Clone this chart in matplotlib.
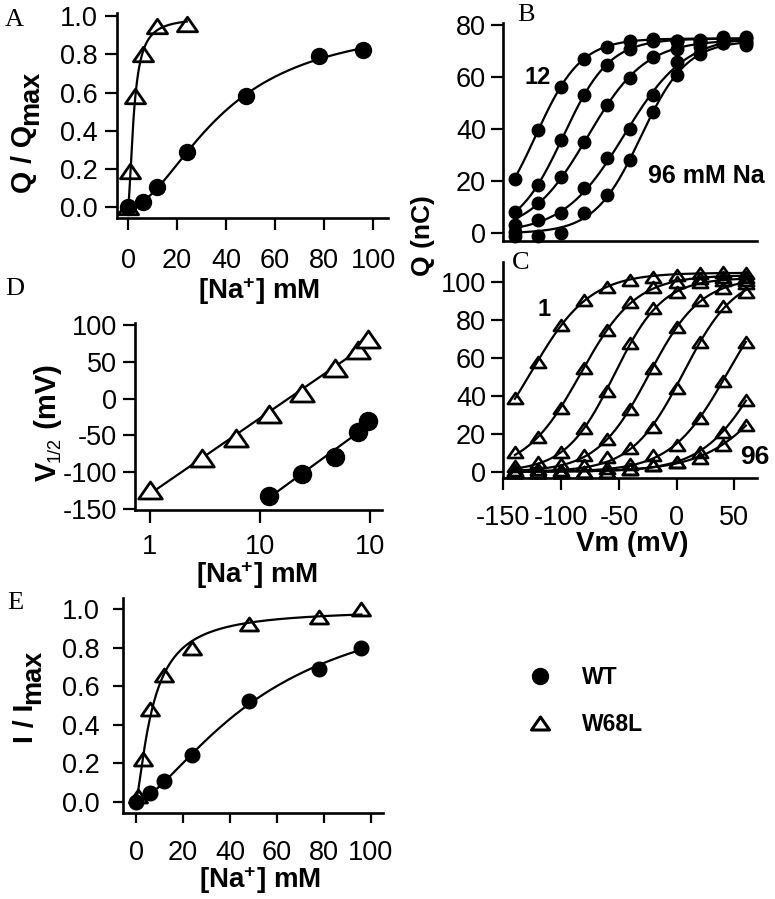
import numpy as np
import matplotlib
matplotlib.use("Agg")
import matplotlib.pyplot as plt
from matplotlib.path import Path
from matplotlib.lines import Line2D
from matplotlib.ticker import FixedLocator, FixedFormatter, NullLocator

# ---------------- data ----------------
# Panel A: normalised charge vs [Na+]
a_wt_na = [0, 6, 12, 24, 48, 78, 96]
a_wt_q = [0.0, 0.03, 0.105, 0.287, 0.584, 0.79, 0.822]
a_mut_na = [0, 1, 3, 6, 12, 24]
a_mut_q = [0.0, 0.19, 0.58, 0.80, 0.95, 0.957]

# Panel B: WT Q-V curves (nC), 12..96 mM Na
b_v = [-140, -120, -100, -80, -60, -40, -20, 0, 20, 40, 60]
b_12 = [21, 39.7, 56.3, 67, 71.7, 74, 74.6, 74, 74.2, 75.5, 75.5]
b_24 = [8.3, 18.5, 35.8, 53.1, 64.6, 71, 74, 74, 74, 75, 75]
b_48 = [3.2, 11.5, 21.7, 35.2, 49.3, 59.5, 67.8, 71, 73, 74, 74]
b_78 = [0.5, 5, 7.7, 17.3, 28.8, 40, 53.1, 66, 71.7, 73, 73]
b_96 = [-1, -1, 0, 7.7, 14.7, 28, 46.7, 61, 69, 73, 72.5]
b_curves = [b_12, b_24, b_48, b_78, b_96]

# Panel C: W68L Q-V curves (nC), 1..96 mM Na
c_v = [-140, -120, -100, -80, -60, -40, -20, 0, 20, 40, 60]
c_1 = [38.7, 58, 77.5, 90.6, 97.7, 101, 103, 104, 105, 105.5, 105]
c_3 = [10.6, 18.5, 33.5, 54.6, 74.8, 89.8, 97.7, 100.3, 102, 103, 103]
c_6 = [3.2, 5.3, 10.6, 23.2, 42.6, 67.8, 86.3, 95, 100, 101, 101]
c_12 = [0.8, 1.5, 4, 8.8, 17.3, 33, 54.6, 76.6, 90.6, 97, 99.4]
c_24 = [0.5, 0, 1, 3.5, 8, 12.3, 23.8, 44, 68.3, 87.5, 95]
c_48 = [0, 0, 0, 0, 1.8, 3.9, 8.8, 14, 28.2, 48, 68.6]
c_78 = [0, 0, 0, 0, 0, 1.6, 3.5, 5.3, 10.6, 21, 37.9]
c_96 = [0, 0, 0, 0, 0, 1.6, 3.5, 5.3, 7, 14, 24.7]
c_curves = [c_1, c_3, c_6, c_12, c_24, c_48, c_78, c_96]

# Panel D: V1/2 vs [Na+]
d_mut_na = [1, 3, 6, 12, 24, 48, 78, 96]
d_mut_v = [-124, -81, -53, -21, 8, 42, 66, 81]
d_wt_na = [12, 24, 48, 78, 96]
d_wt_v = [-132, -102, -79, -45, -31]

# Panel E: normalised current vs [Na+]
e_wt_na = [0, 6, 12, 24, 48, 78, 96]
e_wt_i = [0.0, 0.045, 0.105, 0.24, 0.52, 0.69, 0.80]
e_mut_na = [1, 3, 6, 12, 24, 48, 78, 96]
e_mut_i = [0.03, 0.22, 0.48, 0.66, 0.80, 0.92, 0.96, 1.0]

qv_ticks_b = [0, 20, 40, 60, 80]
qv_ticks_c = [0, 20, 40, 60, 80, 100]
v_ticks = [-150, -100, -50, 0, 50]
frac_ticks = [0.0, 0.2, 0.4, 0.6, 0.8, 1.0]
na_ticks = [0, 20, 40, 60, 80, 100]
d_yticks = [-150, -100, -50, 0, 50, 100]
d_xticks = [1, 10, 100]
d_xticklabels = ["1", "10", "10"]

# ---------------- fitting helpers ----------------
def fit_hill(x, y):
    x = np.asarray(x, float); y = np.asarray(y, float)
    K = np.logspace(-0.5, 2.5, 400)[:, None, None]
    n = np.linspace(0.8, 4.0, 65)[None, :, None]
    xn = x[None, None, :] ** n
    f = xn / (xn + K ** n)
    a = (f * y).sum(-1) / (f * f).sum(-1)
    sse = ((a[..., None] * f - y) ** 2).sum(-1)
    i, j = np.unravel_index(np.argmin(sse), sse.shape)
    return a[i, j], K[i, 0, 0], n[0, j, 0]


def hill_curve(x, y):
    a, K, n = fit_hill(x, y)
    xs = np.linspace(min(x), max(x), 400)
    return xs, a * xs ** n / (xs ** n + K ** n)


def boltz_curve(v, q, qcap):
    v = np.asarray(v, float); q = np.asarray(q, float)
    vh = np.linspace(-250, 200, 451)[:, None, None]
    k = np.linspace(5, 40, 71)[None, :, None]
    f = 1.0 / (1.0 + np.exp(-(v[None, None, :] - vh) / k))
    a = np.minimum((f * q).sum(-1) / (f * f).sum(-1), qcap)
    sse = ((a[..., None] * f - q) ** 2).sum(-1)
    i, j = np.unravel_index(np.argmin(sse), sse.shape)
    vs = np.linspace(v.min(), v.max(), 400)
    return vs, a[i, j] / (1.0 + np.exp(-(vs - vh[i, 0, 0]) / k[0, j, 0]))


# ---------------- style ----------------
plt.rcParams.update({
    "font.family": ["Liberation Sans", "DejaVu Sans"],
    "font.size": 19.5,
    "axes.unicode_minus": False,
    "mathtext.fontset": "custom",
    "mathtext.rm": "Liberation Sans",
    "mathtext.bf": "Liberation Sans:bold",
    "mathtext.it": "Liberation Sans:italic",
})

W, H = 775, 899
fig = plt.figure(figsize=(W / 100, H / 100), dpi=100)

TRI = Path([(0, 0.72), (-1, -0.72), (1, -0.72), (0, 0.72)],
           [Path.MOVETO, Path.LINETO, Path.LINETO, Path.CLOSEPOLY])
LW = 1.6


def ax_px(l, t, r, b):
    return fig.add_axes([l / W, 1 - b / H, (r - l) / W, (b - t) / H])


def style(ax, xpad, ypad, tl=8.5):
    for s in ("top", "right"):
        ax.spines[s].set_visible(False)
    for s in ("left", "bottom"):
        ax.spines[s].set_linewidth(1.9)
    ax.tick_params(axis="both", direction="out", length=tl, width=1.6)
    ax.tick_params(axis="x", pad=xpad)
    ax.tick_params(axis="y", pad=ypad)
    ax.patch.set_alpha(0)


# Panel A
axA = ax_px(117, 13, 388, 218)
axA.set_xlim(-4.49, 106.1); axA.set_ylim(-0.056, 1.0157)
xs, ys = hill_curve(a_wt_na, a_wt_q)
axA.plot(xs, ys, color="k", lw=LW)
xs, ys = hill_curve(a_mut_na, a_mut_q)
axA.plot(xs, ys, color="k", lw=LW)
axA.plot(a_wt_na, a_wt_q, ls="none", marker="o", ms=11.5, mfc="k", mec="k", clip_on=False, zorder=3)
axA.plot(a_mut_na, a_mut_q, ls="none", marker=TRI, ms=14.5, mfc="none", mec="k", mew=2.0, clip_on=False, zorder=3)
axA.set_xticks(na_ticks); axA.set_yticks(frac_ticks)
axA.yaxis.set_major_formatter(FixedFormatter([f"{t:.1f}" for t in frac_ticks]))
style(axA, 13, 5.5)

# Panel B
axB = ax_px(503.3, 23, 757, 241)
axB.set_xlim(-150, 69.6); axB.set_ylim(-2.96, 80.8)
for q in b_curves:
    vs, qs = boltz_curve(b_v, q, 76)
    axB.plot(vs, qs, color="k", lw=LW)
    axB.plot(b_v, q, ls="none", marker="o", ms=9, mfc="k", mec="k", clip_on=False, zorder=3)
axB.set_xticks([]); axB.set_yticks(qv_ticks_b)
style(axB, 12, 4)

# Panel C
axC = ax_px(503.3, 262, 757, 478.3)
axC.set_xlim(-150, 69.6); axC.set_ylim(-3.48, 110.7)
for q in c_curves:
    vs, qs = boltz_curve(c_v, q, 105)
    axC.plot(vs, qs, color="k", lw=LW)
    axC.plot(c_v, q, ls="none", marker=TRI, ms=11, mfc="none", mec="k", mew=1.9, clip_on=False, zorder=3)
axC.set_xticks(v_ticks); axC.set_yticks(qv_ticks_c)
style(axC, 11, 4)

# Panel D
axD = ax_px(135, 323, 382, 510)
axD.set_xscale("log")
axD.set_xlim(0.731, 128.6); axD.set_ylim(-151.4, 102.7)
for xv, yv in ((d_mut_na, d_mut_v), (d_wt_na, d_wt_v)):
    p = np.polyfit(np.log10(xv), yv, 1)
    xs = np.array([min(xv), max(xv)])
    axD.plot(xs, np.polyval(p, np.log10(xs)), color="k", lw=LW)
axD.plot(d_mut_na, d_mut_v, ls="none", marker=TRI, ms=17, mfc="white", mec="k", mew=2.0, clip_on=False, zorder=3)
axD.plot(d_wt_na, d_wt_v, ls="none", marker="o", ms=13, mfc="k", mec="k", clip_on=False, zorder=3)
axD.xaxis.set_major_locator(FixedLocator(d_xticks))
axD.xaxis.set_major_formatter(FixedFormatter(d_xticklabels))
axD.xaxis.set_minor_locator(NullLocator())
axD.set_yticks(d_yticks)
style(axD, 8.5, 4, tl=9)

# Panel E
axE = ax_px(123, 598, 383, 812.7)
axE.set_xlim(-5.54, 105.2); axE.set_ylim(-0.057, 1.057)
xs, ys = hill_curve(e_wt_na, e_wt_i)
axE.plot(xs, ys, color="k", lw=LW)
xs, ys = hill_curve(e_mut_na, e_mut_i)
axE.plot(np.concatenate([[0], xs]), np.concatenate([[0], ys]), color="k", lw=LW)
axE.plot(e_wt_na, e_wt_i, ls="none", marker="o", ms=10.5, mfc="k", mec="k", clip_on=False, zorder=3)
axE.plot(e_mut_na, e_mut_i, ls="none", marker=TRI, ms=13, mfc="none", mec="k", mew=2.0, clip_on=False, zorder=3)
axE.set_xticks(na_ticks); axE.set_yticks(frac_ticks)
axE.yaxis.set_major_formatter(FixedFormatter([f"{t:.1f}" for t in frac_ticks]))
style(axE, 12, 9, tl=7.5)

# ---------------- overlay for labels ----------------
ov = fig.add_axes([0, 0, 1, 1])
ov.set_xlim(0, W); ov.set_ylim(H, 0); ov.axis("off")
renderer = fig.canvas.get_renderer()


def vlabel(x_base, y_start, pieces):
    y = y_start
    for txt, size, weight, dx in pieces:
        t = ov.text(x_base + dx, y, txt, rotation=90, rotation_mode="anchor",
                    ha="left", va="baseline", fontsize=size, fontweight=weight)
        bb = t.get_window_extent(renderer)
        y -= bb.height


vlabel(31, 193, [("Q / Q", 20.5, "bold", 0), ("max", 19.5, "bold", 7)])
vlabel(56, 481, [("V", 21, "bold", 0), ("1/2", 13, "normal", 4), (" (mV)", 21, "bold", 0)])
vlabel(33, 743, [("I / I", 20.5, "bold", 0), ("max", 19.5, "bold", 7)])
ov.text(423, 236, "Q (nC)", rotation=90, ha="center", va="center", fontsize=19, fontweight="bold")

na_lab = r"$\mathbf{[Na^{+}]\ mM}$"
ov.text(259, 291, na_lab, ha="center", va="center", fontsize=20)
ov.text(257, 575, na_lab, ha="center", va="center", fontsize=20)
ov.text(260, 880, na_lab, ha="center", va="center", fontsize=20)
ov.text(632, 544, "Vm (mV)", ha="center", va="center", fontsize=20, fontweight="bold")

serif = ["Liberation Serif", "DejaVu Serif"]
for letter, x, y in (("A", 5, 20), ("B", 517, 15), ("C", 512, 263), ("D", 5, 289), ("E", 7, 603)):
    ov.text(x, y, letter, ha="left", va="center", fontsize=19, family=serif)

ov.text(538, 78, "12", ha="center", va="center", fontsize=17, fontweight="bold")
ov.text(648, 176, "96 mM Na", ha="left", va="center", fontsize=18, fontweight="bold")
ov.text(544, 310, "1", ha="center", va="center", fontsize=17, fontweight="bold")
ov.text(755, 457, "96", ha="center", va="center", fontsize=19, fontweight="bold")

h_wt = Line2D([], [], ls="none", marker="o", ms=11.5, mfc="k", mec="k")
h_mut = Line2D([], [], ls="none", marker=TRI, ms=13, mfc="none", mec="k", mew=2.2)
ov.legend([h_wt, h_mut], ["WT", "W68L"], loc="upper left", bbox_to_anchor=(529, 666),
          bbox_transform=ov.transData, frameon=False, borderpad=0, borderaxespad=0,
          handlelength=1.0, handletextpad=1.3, labelspacing=1.05,
          prop={"weight": "bold", "size": 16.5})

fig.savefig("out.png", dpi=100)
